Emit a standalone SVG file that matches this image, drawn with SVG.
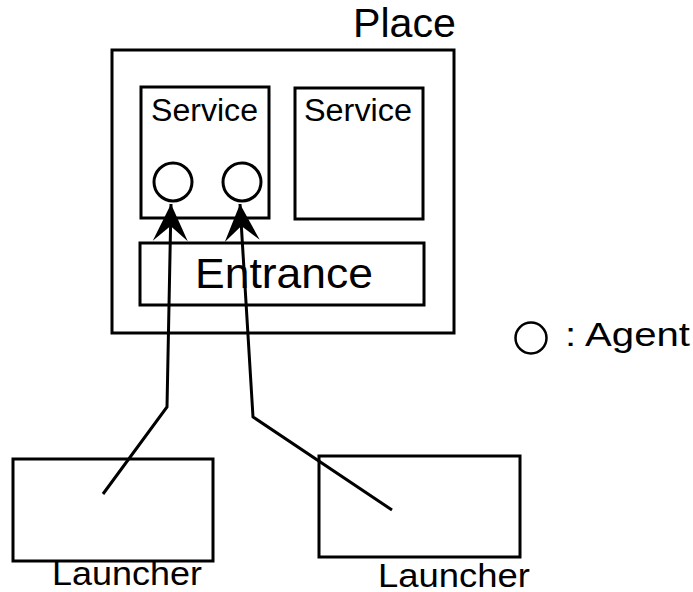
<svg xmlns="http://www.w3.org/2000/svg" width="693" height="592" viewBox="0 0 693 592">
  <style>
    .box { fill: none; stroke: #000; stroke-width: 3; }
    .agent { fill: #fff; stroke: #000; stroke-width: 3; }
    .label { font-family: "Liberation Sans", Arial, Helvetica, sans-serif; fill: #000; }
    .link { fill: none; stroke: #000; stroke-width: 3; stroke-linejoin: miter; }
  </style>
  <defs>
    <marker id="arrow" markerUnits="userSpaceOnUse" markerWidth="40" markerHeight="40"
            viewBox="-38 -19 40 38" refX="0" refY="0" orient="auto" overflow="visible">
      <path d="M0,0 L-37,-17.5 L-22,0 L-37,17.5 Z" fill="#000"/>
    </marker>
  </defs>

  <rect width="693" height="592" fill="#fff"/>

  <g id="place">
    <rect class="box" x="112" y="50" width="342" height="283"/>
    <text class="label" x="353" y="37" font-size="40" textLength="103" lengthAdjust="spacingAndGlyphs">Place</text>
  </g>

  <g id="service-1">
    <rect class="box" x="141" y="87" width="128" height="131"/>
    <text class="label" x="151" y="121" font-size="31" textLength="107" lengthAdjust="spacingAndGlyphs">Service</text>
  </g>

  <g id="service-2">
    <rect class="box" x="295" y="88" width="128" height="131"/>
    <text class="label" x="304" y="121" font-size="31" textLength="108" lengthAdjust="spacingAndGlyphs">Service</text>
  </g>

  <g id="agent-1">
    <circle class="agent" cx="173" cy="182" r="19"/>
  </g>

  <g id="agent-2">
    <circle class="agent" cx="242" cy="182" r="19"/>
  </g>

  <g id="entrance">
    <rect class="box" x="140" y="243" width="284" height="62"/>
    <text class="label" x="195" y="288" font-size="42" textLength="178" lengthAdjust="spacingAndGlyphs">Entrance</text>
  </g>

  <g id="launcher-1">
    <rect class="box" x="13" y="459" width="200" height="102"/>
    <text class="label" x="52" y="585" font-size="33" textLength="150" lengthAdjust="spacingAndGlyphs">Launcher</text>
  </g>

  <g id="launcher-2">
    <rect class="box" x="319" y="456" width="201" height="101"/>
    <text class="label" x="378" y="587" font-size="33" textLength="152" lengthAdjust="spacingAndGlyphs">Launcher</text>
  </g>

  <g id="legend">
    <circle cx="531" cy="338" r="15.5" fill="none" stroke="#000" stroke-width="2.5"/>
    <text class="label" x="565" y="346" font-size="33" textLength="125" lengthAdjust="spacingAndGlyphs">: Agent</text>
  </g>

  <g id="connectors">
    <polyline class="link" points="103,494 167,407 171,204" marker-end="url(#arrow)"/>
    <polyline class="link" points="392,510 253,417 240,204" marker-end="url(#arrow)"/>
  </g>
</svg>
